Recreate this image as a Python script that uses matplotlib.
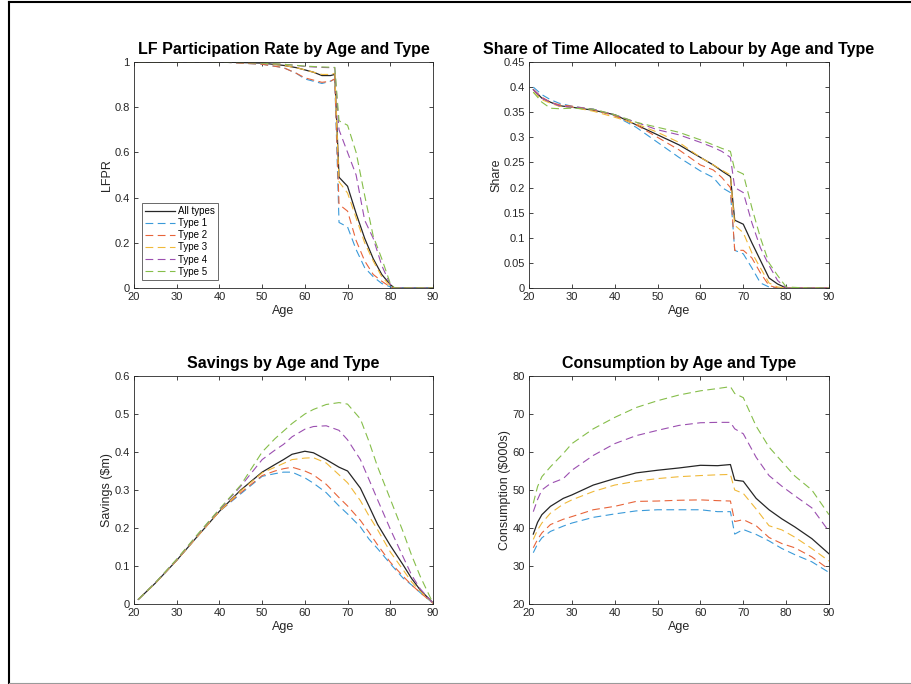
import matplotlib
matplotlib.use("Agg")
import matplotlib.pyplot as plt
from matplotlib.lines import Line2D
from matplotlib.ticker import FormatStrFormatter

plt.rcParams['font.family'] = ['Liberation Sans', 'DejaVu Sans']

labels = ['All types', 'Type 1', 'Type 2', 'Type 3', 'Type 4', 'Type 5']
colors = ['#262626', '#3A9AD9', '#E8643A', '#F0B93A', '#9B4FB0', '#86BE4A']

# LF participation rate
lfpr_age = [21, 30, 40, 50, 55, 58, 60, 62, 64, 66, 67, 68, 70, 72, 74, 76, 78, 80, 81, 85, 90]
lfpr_all = [1, 1, 1, 0.995, 0.985, 0.975, 0.965, 0.955, 0.94, 0.94, 0.945, 0.49, 0.45, 0.33, 0.22, 0.13, 0.06, 0.015, 0, 0, 0]
lfpr_t1 = [1, 1, 1, 0.99, 0.975, 0.95, 0.925, 0.915, 0.905, 0.915, 0.925, 0.29, 0.27, 0.17, 0.09, 0.05, 0.02, 0.005, 0, 0, 0]
lfpr_t2 = [1, 1, 1, 0.99, 0.975, 0.95, 0.93, 0.92, 0.91, 0.915, 0.925, 0.37, 0.34, 0.21, 0.12, 0.06, 0.03, 0.005, 0, 0, 0]
lfpr_t3 = [1, 1, 1, 0.995, 0.985, 0.975, 0.965, 0.955, 0.945, 0.945, 0.95, 0.47, 0.42, 0.31, 0.2, 0.12, 0.05, 0.01, 0, 0, 0]
lfpr_t4 = [1, 1, 1, 0.995, 0.99, 0.985, 0.98, 0.978, 0.976, 0.975, 0.975, 0.70, 0.60, 0.50, 0.30, 0.22, 0.10, 0.015, 0, 0, 0]
lfpr_t5 = [1, 1, 1, 0.995, 0.99, 0.985, 0.982, 0.98, 0.978, 0.977, 0.976, 0.74, 0.72, 0.60, 0.41, 0.23, 0.13, 0.02, 0, 0, 0]

# share of time allocated to labour
share_age = [21, 23, 25, 27, 30, 35, 40, 45, 50, 55, 60, 63, 65, 67, 68, 70, 72, 74, 76, 78, 80, 85, 90]
share_all = [0.395, 0.378, 0.37, 0.363, 0.36, 0.354, 0.345, 0.325, 0.305, 0.285, 0.26, 0.245, 0.233, 0.222, 0.135, 0.127, 0.09, 0.055, 0.02, 0.008, 0, 0, 0]
share_t1 = [0.40, 0.385, 0.375, 0.368, 0.362, 0.356, 0.343, 0.32, 0.29, 0.26, 0.233, 0.22, 0.2, 0.19, 0.075, 0.068, 0.04, 0.01, 0.002, 0, 0, 0, 0]
share_t2 = [0.395, 0.38, 0.37, 0.365, 0.362, 0.355, 0.343, 0.325, 0.3, 0.275, 0.245, 0.235, 0.22, 0.2, 0.075, 0.075, 0.06, 0.03, 0.005, 0, 0, 0, 0]
share_t3 = [0.39, 0.375, 0.368, 0.362, 0.36, 0.352, 0.34, 0.327, 0.31, 0.29, 0.26, 0.245, 0.235, 0.225, 0.125, 0.11, 0.07, 0.04, 0.01, 0.002, 0, 0, 0]
share_t4 = [0.395, 0.378, 0.37, 0.363, 0.36, 0.356, 0.345, 0.33, 0.315, 0.305, 0.29, 0.28, 0.272, 0.26, 0.2, 0.19, 0.13, 0.08, 0.045, 0.015, 0, 0, 0]
share_t5 = [0.39, 0.37, 0.358, 0.357, 0.358, 0.356, 0.345, 0.33, 0.32, 0.31, 0.295, 0.285, 0.278, 0.272, 0.235, 0.227, 0.16, 0.1, 0.05, 0.025, 0.002, 0, 0]

# savings ($m)
sav_age = [21, 25, 30, 35, 40, 45, 50, 53, 55, 57, 60, 62, 65, 68, 70, 73, 75, 77, 80, 83, 85, 87, 90]
sav_all = [0.012, 0.055, 0.115, 0.18, 0.244, 0.3, 0.347, 0.367, 0.38, 0.394, 0.402, 0.398, 0.38, 0.36, 0.35, 0.305, 0.258, 0.21, 0.154, 0.103, 0.067, 0.037, 0.003]
sav_t1 = [0.012, 0.055, 0.115, 0.18, 0.244, 0.29, 0.336, 0.343, 0.347, 0.347, 0.332, 0.318, 0.293, 0.258, 0.237, 0.203, 0.171, 0.146, 0.106, 0.068, 0.05, 0.03, 0.002]
sav_t2 = [0.012, 0.055, 0.115, 0.18, 0.244, 0.293, 0.338, 0.35, 0.356, 0.36, 0.35, 0.34, 0.315, 0.28, 0.258, 0.22, 0.189, 0.156, 0.11, 0.073, 0.05, 0.03, 0.002]
sav_t3 = [0.012, 0.055, 0.115, 0.18, 0.244, 0.298, 0.345, 0.36, 0.37, 0.38, 0.384, 0.385, 0.371, 0.34, 0.319, 0.272, 0.232, 0.196, 0.137, 0.09, 0.058, 0.034, 0.002]
sav_t4 = [0.012, 0.056, 0.117, 0.183, 0.248, 0.31, 0.38, 0.405, 0.42, 0.44, 0.46, 0.467, 0.469, 0.457, 0.432, 0.38, 0.328, 0.275, 0.197, 0.124, 0.076, 0.04, 0.002]
sav_t5 = [0.012, 0.056, 0.118, 0.185, 0.25, 0.313, 0.40, 0.435, 0.455, 0.475, 0.5, 0.512, 0.525, 0.53, 0.526, 0.487, 0.428, 0.362, 0.276, 0.19, 0.128, 0.073, 0.002]

# consumption ($000s)
con_age = [21, 22, 23, 25, 28, 30, 35, 40, 45, 50, 55, 60, 64, 67, 68, 70, 73, 76, 79, 82, 86, 90]
con_all = [38.4, 41.5, 43.5, 45.7, 47.8, 48.7, 51.3, 53, 54.5, 55.2, 55.8, 56.5, 56.4, 56.7, 52.6, 52.3, 47.8, 44.8, 42.4, 40.3, 37.2, 33.2]
con_t1 = [33.5, 35.8, 37.4, 39.1, 40.5, 41.3, 42.8, 43.7, 44.5, 44.8, 44.8, 44.8, 44.3, 44.3, 38.4, 39.6, 38.3, 36.6, 34.6, 33, 31.1, 28.3]
con_t2 = [34.8, 37, 38.7, 40.9, 42.3, 43, 44.8, 45.7, 47, 47.1, 47.3, 47.4, 47.2, 47.1, 41.7, 42.2, 40.6, 37.5, 35.9, 34.8, 32.4, 29.1]
con_t3 = [37, 39.5, 41.3, 43.9, 46.3, 47.4, 49.6, 51.3, 52.3, 53, 53.5, 53.8, 54, 54.1, 50, 49.1, 45, 40.6, 39.5, 37.6, 34.6, 31.3]
con_t4 = [44.3, 47.5, 50, 51.7, 53, 55.2, 59.1, 62.2, 64.3, 65.7, 67, 67.7, 67.8, 67.8, 66.1, 64.8, 58.6, 53.8, 51, 48.5, 45.3, 39.1]
con_t5 = [46.5, 50.9, 53.5, 56.1, 59.6, 62.2, 66.1, 69.1, 71.7, 73.5, 75, 76.1, 76.7, 77.2, 75.4, 74.3, 66.8, 61.3, 57.5, 53.7, 50, 43.5]

panels = [
    ('LF Participation Rate by Age and Type', 'LFPR', lfpr_age,
     [lfpr_all, lfpr_t1, lfpr_t2, lfpr_t3, lfpr_t4, lfpr_t5], (0, 1), [0, 0.2, 0.4, 0.6, 0.8, 1]),
    ('Share of Time Allocated to Labour by Age and Type', 'Share', share_age,
     [share_all, share_t1, share_t2, share_t3, share_t4, share_t5], (0, 0.45),
     [0, 0.05, 0.1, 0.15, 0.2, 0.25, 0.3, 0.35, 0.4, 0.45]),
    ('Savings by Age and Type', 'Savings ($m)', sav_age,
     [sav_all, sav_t1, sav_t2, sav_t3, sav_t4, sav_t5], (0, 0.6), [0, 0.1, 0.2, 0.3, 0.4, 0.5, 0.6]),
    ('Consumption by Age and Type', 'Consumption ($000s)', con_age,
     [con_all, con_t1, con_t2, con_t3, con_t4, con_t5], (20, 80), [20, 30, 40, 50, 60, 70, 80]),
]

W, H = 911, 684
fig = plt.figure(figsize=(W / 100, H / 100), dpi=100)

# axes boxes in pixels: left, top, right, bottom
boxes = [(134, 62, 433, 288), (529, 62, 829, 288), (134, 376, 433, 604), (529, 376, 829, 604)]

axc = '#262626'
for (title, ylab, ages, series, ylim, yticks), (l, t, r, b) in zip(panels, boxes):
    ax = fig.add_axes([l / W, 1 - b / H, (r - l) / W, (b - t) / H])
    for i, (vals, lab, c) in enumerate(zip(series, labels, colors)):
        if i == 0:
            ax.plot(ages, vals, color=c, lw=0.9, label=lab)
        else:
            ax.plot(ages, vals, color=c, lw=0.8, linestyle=(0, (7, 4)), label=lab)
    ax.set_xlim(20, 90)
    ax.set_ylim(*ylim)
    ax.set_xticks([20, 30, 40, 50, 60, 70, 80, 90])
    ax.set_yticks(yticks)
    ax.yaxis.set_major_formatter(FormatStrFormatter('%g'))
    ax.tick_params(direction='in', length=3, width=0.6, top=True, right=True,
                   labelsize=8, colors=axc, pad=3)
    for s in ax.spines.values():
        s.set_color(axc)
        s.set_linewidth(0.6)
    ax.set_title(title, fontsize=11.5, fontweight='bold', pad=5.5)
    ax.set_xlabel('Age', fontsize=9, color=axc, labelpad=2)
    ax.set_ylabel(ylab, fontsize=9, color=axc, labelpad=1)
    if ylab == 'LFPR':
        leg = ax.legend(loc='lower left', bbox_to_anchor=(0.027, 0.035), fontsize=7,
                        frameon=True, fancybox=False, handlelength=3.0, handletextpad=0.3,
                        borderpad=0.35, labelspacing=0.22, borderaxespad=0)
        leg.get_frame().set_edgecolor(axc)
        leg.get_frame().set_linewidth(0.6)

# frame lines around the figure window
fig.add_artist(Line2D([8.5 / W, 1], [1 - 1.5 / H, 1 - 1.5 / H], color='black', lw=1.5))
fig.add_artist(Line2D([8.5 / W, 8.5 / W], [0, 1 - 1.5 / H], color='black', lw=1.5))
fig.add_artist(Line2D([8.5 / W, 1], [0.7 / H, 0.7 / H], color='#9a9a9a', lw=0.8))

fig.savefig('out.png', dpi=100)
